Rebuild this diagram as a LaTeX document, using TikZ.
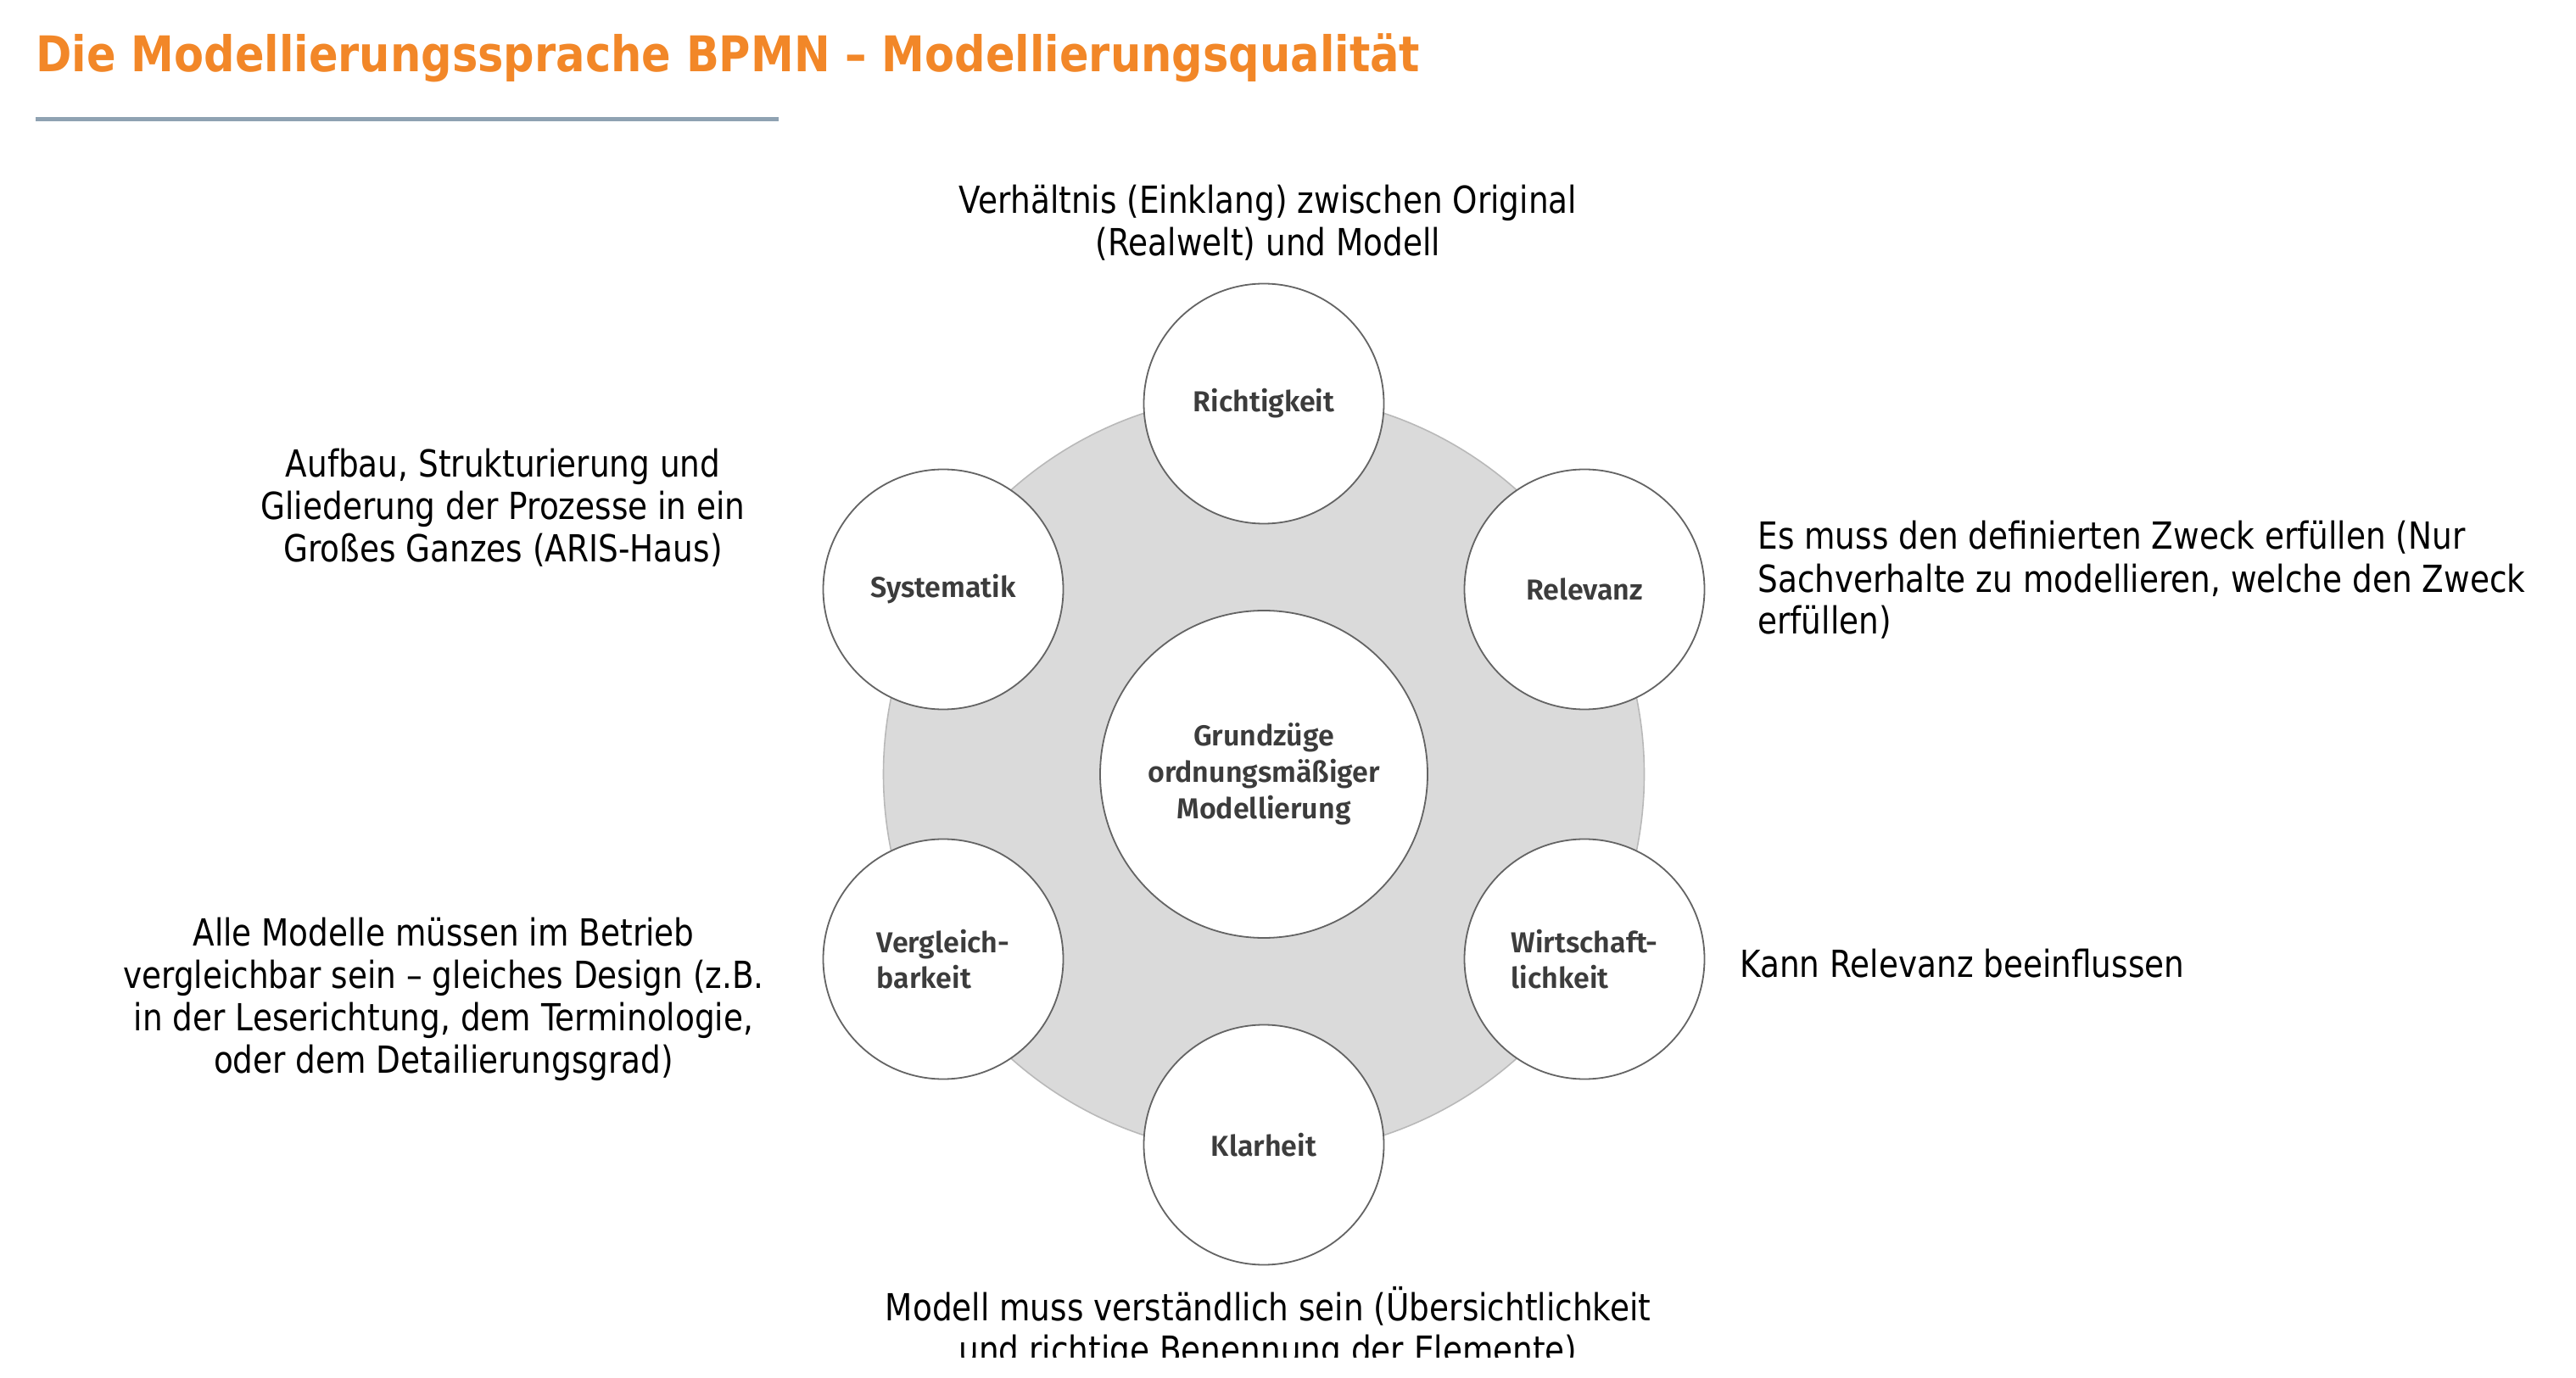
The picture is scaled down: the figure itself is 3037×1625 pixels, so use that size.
\documentclass[tikz,border=0pt]{standalone}
\usepackage{fontspec}
\usetikzlibrary{positioning}
\newfontfamily\notefont{DejaVu Sans}[FakeStretch=0.85]
\newfontfamily\headfont{DejaVu Sans}[FakeStretch=0.88]
\newfontfamily\circfont{Fira Sans}[BoldFont={Fira Sans SemiBold}]
\definecolor{headorange}{RGB}{242,135,40}
\definecolor{rulegray}{RGB}{143,162,178}
\definecolor{ringgray}{RGB}{218,218,218}
\definecolor{edgegray}{RGB}{100,100,100}
\definecolor{labelgray}{RGB}{60,60,60}

\tikzset{
  quality/.style={circle, draw=edgegray, line width=0.9pt, fill=white,
    minimum size=141.5pt, inner sep=0pt, text=labelgray, align=left,
    font=\circfont\bfseries\fontsize{17}{21}\selectfont},
  note/.style={inner sep=0pt, font=\notefont\fontsize{22}{25}\selectfont},
}

\begin{document}
\begin{tikzpicture}[x=0.5pt, y=-0.5pt]
  \useasboundingbox (0,0) rectangle (3037,1625);
  \clip (0,0) rectangle (3037,1625);

  % heading
  \node [anchor=base west, inner sep=0pt, text=headorange,
    font=\headfont\bfseries\fontsize{29}{34}\selectfont] (title) at (42,85)
    {Die Modellierungssprache BPMN – Modellierungsqualität};
  \coordinate (rulel) at (42,141);
  \coordinate (ruler) at (918,141);
  \draw [rulegray, line width=2.5pt] (rulel) -- (ruler);

  % grey ring and centre
  \node [circle, fill=ringgray, draw=gray!55, line width=0.8pt,
    minimum size=448.5pt, inner sep=0pt] (ring) at (1490,913) {};
  \node [quality, minimum size=193pt, align=center,
    font=\circfont\bfseries\fontsize{17}{21.5}\selectfont] (core) at (1490,913)
    {Grundzüge\\ordnungsmäßiger\\Modellierung};

  % six criteria
  \node [quality] (richt) at (1490,476) {Richtigkeit};
  \node [quality] (relev) at (1868,695) {Relevanz};
  \node [quality] (wirt) at (1868,1131) {Wirtschaft-\\lichkeit};
  \node [quality] (klar) at (1490,1350) {Klarheit};
  \node [quality] (vergl) at (1112,1131) {Vergleich-\\barkeit};
  \node [quality] (syst) at (1112,695) {Systematik};

  % explanations (base = last line)
  \node [note, anchor=base, align=center] (richtnote) at (1495,302)
    {Verhältnis (Einklang) zwischen Original\\(Realwelt) und Modell};
  \node [note, anchor=base, align=center] (systnote) at (593,663)
    {Aufbau, Strukturierung und\\Gliederung der Prozesse in ein\\Großes Ganzes (ARIS-Haus)};
  \node [note, anchor=base west, align=left] (relevnote) at (2072,748)
    {Es muss den definierten Zweck erfüllen (Nur\\Sachverhalte zu modellieren, welche den Zweck\\erfüllen)};
  \node [note, anchor=base, align=center] (verglnote) at (523,1265)
    {Alle Modelle müssen im Betrieb\\vergleichbar sein – gleiches Design (z.B.\\in der Leserichtung, dem Terminologie,\\oder dem Detailierungsgrad)};
  \node [note, anchor=base west] (wirtnote) at (2051,1152)
    {Kann Relevanz beeinflussen};
  \begin{scope}
    % the screenshot cuts the second line
    \clip (0,0) rectangle (3037,1600);
    \node [note, anchor=base, align=center] (klarnote) at (1495,1607)
      {Modell muss verständlich sein (Übersichtlichkeit\\und richtige Benennung der Elemente)};
  \end{scope}
\end{tikzpicture}
\end{document}
